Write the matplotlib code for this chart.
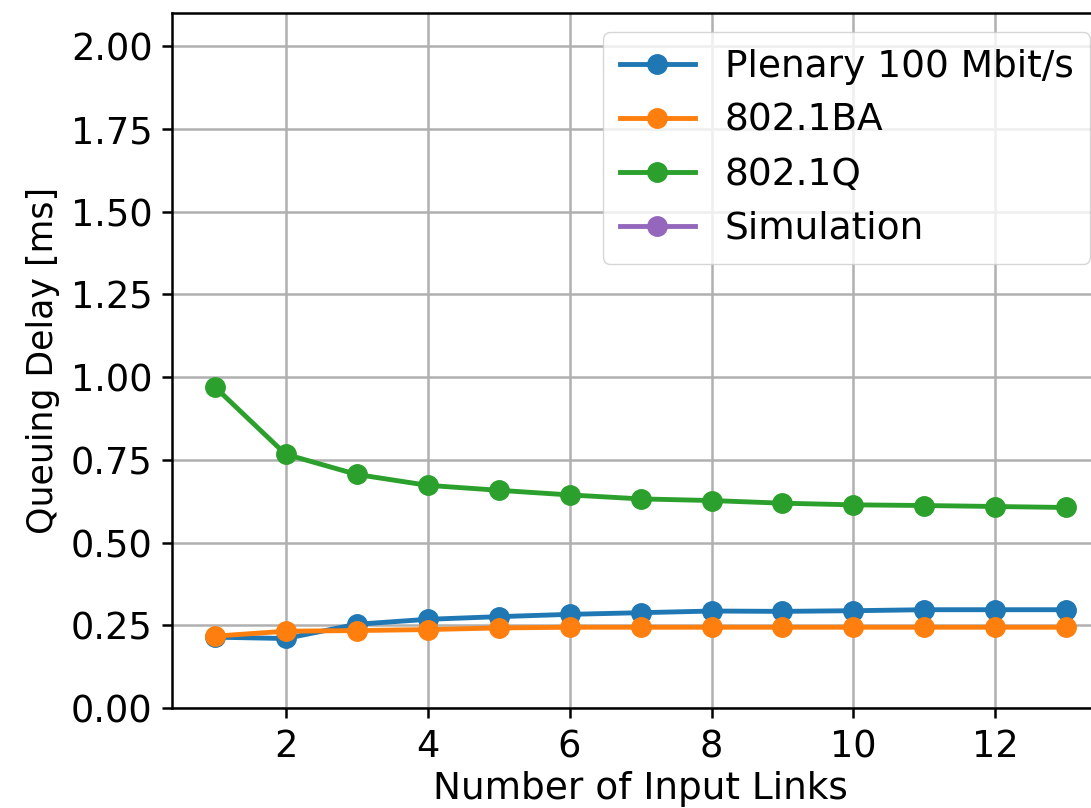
import matplotlib
matplotlib.use("Agg")
import matplotlib.pyplot as plt

links = [1, 2, 3, 4, 5, 6, 7, 8, 9, 10, 11, 12, 13]
plenary = [0.214, 0.210, 0.253, 0.268, 0.276, 0.283, 0.288, 0.293, 0.292, 0.294, 0.297, 0.297, 0.297]
ba = [0.217, 0.232, 0.234, 0.237, 0.242, 0.244, 0.244, 0.244, 0.244, 0.244, 0.244, 0.244, 0.244]
q = [0.971, 0.767, 0.706, 0.673, 0.658, 0.644, 0.632, 0.627, 0.619, 0.614, 0.612, 0.609, 0.606]
sim_x = []
sim_y = []

plt.rcParams["font.family"] = ["DejaVu Sans"]
plt.rcParams["font.size"] = 26.5

fig = plt.figure(figsize=(10.91, 8.08), dpi=100)
# axes runs past the right edge, like the cropped original
ax = fig.add_axes([0.1577, 0.1238, 0.8588, 0.8598])

kw = dict(marker="o", markersize=14, linewidth=3.5)
ax.plot(links, plenary, color="#1f77b4", label="Plenary 100 Mbit/s", **kw)
ax.plot(links, ba, color="#ff7f0e", label="802.1BA", **kw)
ax.plot(links, q, color="#2ca02c", label="802.1Q", **kw)
ax.plot(sim_x, sim_y, color="#9467bd", label="Simulation", **kw)

ax.set_xlim(0.4, 13.6)
ax.set_ylim(0, 2.1)
ax.set_xticks([2, 4, 6, 8, 10, 12])
ax.set_yticks([0, 0.25, 0.5, 0.75, 1.0, 1.25, 1.5, 1.75, 2.0])
ax.grid(True, color="#b0b0b0", linewidth=1.8)
ax.set_axisbelow(True)
for s in ax.spines.values():
    s.set_linewidth(1.8)
ax.tick_params(length=7.5, width=1.8, labelsize=26.5)
ax.tick_params(axis="y", pad=6.5)
ax.tick_params(axis="x", pad=7)

ax.set_xlabel("Number of Input Links", fontsize=27, labelpad=4)
ax.set_ylabel("Queuing Delay [ms]", fontsize=25, labelpad=8)
ax.legend(loc="upper right", fontsize=27, handlelength=2.0,
          labelspacing=0.48, borderpad=0.45)

fig.savefig("out.png", dpi=100, facecolor="white")
plt.close(fig)
